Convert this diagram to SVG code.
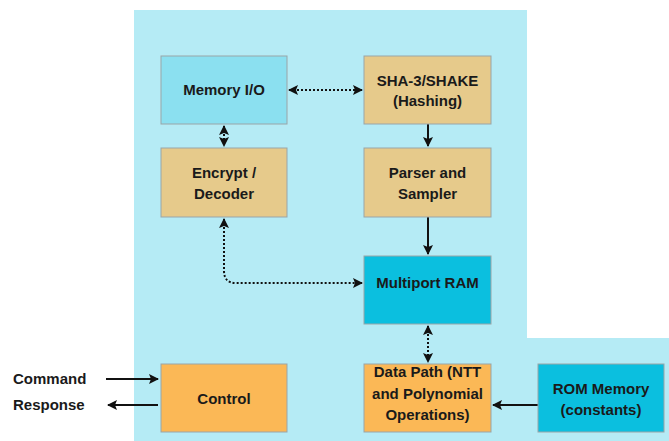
<svg xmlns="http://www.w3.org/2000/svg" width="669" height="441" viewBox="0 0 669 441">
  <style>
    .box { stroke: #9aa5a8; stroke-width: 1; }
    .tan { fill: #e6ca8b; }
    .cyan { fill: #0bbfdf; }
    .orange { fill: #fbb856; }
    .lt { fill: #8be0f0; }
    text { font-family: "Liberation Sans", Arial, sans-serif; font-size: 15px; font-weight: bold; fill: #1a1a1a; text-anchor: middle; }
    .side { text-anchor: start; }
    .solid { fill: none; stroke: #111; stroke-width: 2; }
    .dot { fill: none; stroke: #111; stroke-width: 2; stroke-dasharray: 2 2; }
  </style>
  <defs>
    <marker id="ah" viewBox="0 0 10 10" refX="9" refY="5" markerWidth="5" markerHeight="5" orient="auto-start-reverse" markerUnits="strokeWidth">
      <path d="M0,0 L10,5 L0,10 L2,5 Z" fill="#111"/>
    </marker>
  </defs>
  <rect width="669" height="441" fill="#ffffff"/>
  <!-- light blue enclosure -->
  <path d="M134,10 H527 V338 H669 V441 H134 Z" fill="#b5ebf5"/>

  <g id="connectors">
    <line class="dot" x1="289" y1="90" x2="362" y2="90" marker-start="url(#ah)" marker-end="url(#ah)"/>
    <line class="dot" x1="224" y1="126" x2="224" y2="146" marker-start="url(#ah)" marker-end="url(#ah)"/>
    <line class="solid" x1="428" y1="124" x2="428" y2="146" marker-end="url(#ah)"/>
    <line class="solid" x1="428" y1="217" x2="428" y2="254" marker-end="url(#ah)"/>
    <path class="dot" d="M224,219 V271 Q224,283 236,283 H362" marker-start="url(#ah)" marker-end="url(#ah)"/>
    <line class="dot" x1="428" y1="326" x2="428" y2="362" marker-start="url(#ah)" marker-end="url(#ah)"/>
    <line class="solid" x1="538" y1="405" x2="493" y2="405" marker-end="url(#ah)"/>
    <line class="solid" x1="106" y1="379" x2="158" y2="379" marker-end="url(#ah)"/>
    <line class="solid" x1="158" y1="405" x2="108" y2="405" marker-end="url(#ah)"/>
  </g>

  <g id="memory-io">
    <rect class="box lt" x="161" y="56" width="126" height="68"/>
    <text x="224" y="95">Memory I/O</text>
  </g>
  <g id="sha3">
    <rect class="box tan" x="364" y="56" width="127" height="68"/>
    <text x="427.5" y="86">SHA-3/SHAKE</text>
    <text x="427.5" y="106">(Hashing)</text>
  </g>
  <g id="encrypt">
    <rect class="box tan" x="161" y="148" width="126" height="69"/>
    <text x="224" y="178">Encrypt /</text>
    <text x="224" y="199">Decoder</text>
  </g>
  <g id="parser">
    <rect class="box tan" x="364" y="148" width="127" height="69"/>
    <text x="427.5" y="178">Parser and</text>
    <text x="427.5" y="199">Sampler</text>
  </g>
  <g id="multiport-ram">
    <rect class="box cyan" x="364" y="256" width="127" height="68"/>
    <text x="427.5" y="288">Multiport RAM</text>
  </g>
  <g id="control">
    <rect class="box orange" x="161" y="364" width="126" height="68"/>
    <text x="224" y="404">Control</text>
  </g>
  <g id="data-path">
    <rect class="box orange" x="364" y="364" width="127" height="68"/>
    <text x="427.5" y="377">Data Path (NTT</text>
    <text x="427.5" y="399">and Polynomial</text>
    <text x="427.5" y="420">Operations)</text>
  </g>
  <g id="rom">
    <rect class="box cyan" x="538" y="364" width="126" height="68"/>
    <text x="601" y="394">ROM Memory</text>
    <text x="601" y="415">(constants)</text>
  </g>
  <g id="io-labels">
    <text class="side" x="13" y="384">Command</text>
    <text class="side" x="13" y="410">Response</text>
  </g>
</svg>
